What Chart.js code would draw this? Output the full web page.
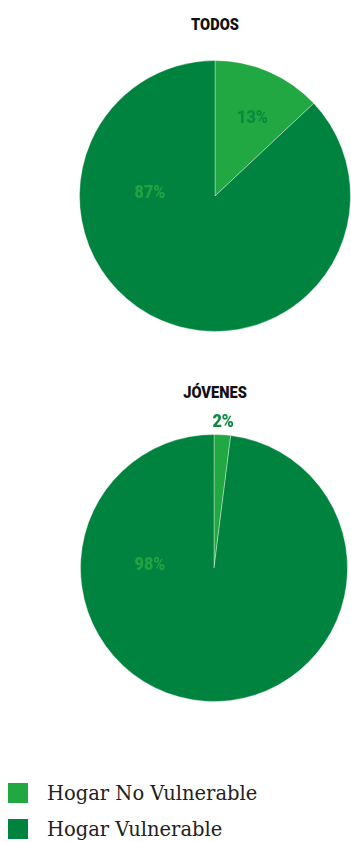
<!DOCTYPE html>
<html>
<head>
<meta charset="utf-8">
<script src="https://cdn.jsdelivr.net/npm/chart.js@4"></script>
<style>
  body { margin: 0; width: 351px; height: 842px; background: #fff; position: relative; overflow: hidden; }
  .titulo { position: absolute; left: 80px; width: 270px; text-align: center; font-family: "Roboto", sans-serif; font-weight: 900; font-size: 17px; color: #111; transform: scaleX(0.86); }
  .caja { position: absolute; }
  #leyenda { position: absolute; left: 8px; top: 775px; font-family: "DejaVu Serif", serif; font-size: 19.5px; color: #222; }
  #leyenda div { display: flex; align-items: center; height: 36px; }
  #leyenda span.m { width: 20px; height: 20px; margin-right: 19px; }
</style>
</head>
<body>
<div class="titulo" style="top:14px">TODOS</div>
<div class="caja" style="left:79px; top:60px; width:272px; height:272px"><canvas id="graficaTodos"></canvas></div>
<div class="titulo" style="top:382px">JÓVENES</div>
<div class="caja" style="left:80px; top:400px; width:268px; height:302px"><canvas id="graficaJovenes"></canvas></div>
<div id="leyenda"></div>
<script>
const categorias = ['Hogar No Vulnerable', 'Hogar Vulnerable'];
const valoresTodos = [13, 87];
const valoresJovenes = [2, 98];
const colores = ['#22a843', '#00833f'];
const coloresTexto = ['#0a8a3c', '#22a243'];

// etiquetas de porcentaje: pequeñas fuera, grandes a la izquierda
const etiquetas = {
    id: 'etiquetas',
    afterDatasetsDraw(chart) {
        const ctx = chart.ctx;
        const arcos = chart.getDatasetMeta(0).data;
        const datos = chart.data.datasets[0].data;
        const total = datos.reduce((a, b) => a + b, 0);
        ctx.save();
        ctx.font = '900 18px "Roboto", sans-serif';
        ctx.textAlign = 'center';
        ctx.textBaseline = 'middle';
        arcos.forEach((arco, i) => {
            const { x, y, startAngle, endAngle, outerRadius } = arco.getProps(['x', 'y', 'startAngle', 'endAngle', 'outerRadius'], true);
            const frac = datos[i] / total;
            const medio = (startAngle + endAngle) / 2;
            let px, py, color = coloresTexto[i];
            if (frac < 0.05) {
                px = x + Math.cos(medio) * (outerRadius + 12);
                py = y + Math.sin(medio) * (outerRadius + 12);
                color = '#0d8a40';
            } else if (frac > 0.5) {
                px = x - outerRadius * 0.48;
                py = y - 3;
            } else {
                px = x + Math.cos(medio) * outerRadius * 0.64 + 3;
                py = y + Math.sin(medio) * outerRadius * 0.64 + 2;
            }
            ctx.fillStyle = color;
            ctx.save();
            ctx.translate(px, py);
            ctx.scale(0.9, 1);
            ctx.fillText(datos[i] + '%', 0, 0);
            ctx.restore();
        });
        ctx.restore();
    }
};

function crearTorta(id, valores, padding) {
    return new Chart(document.getElementById(id), {
        type: 'pie',
        data: {
            labels: categorias,
            datasets: [{
                data: valores,
                backgroundColor: colores,
                borderColor: 'rgba(255,255,255,0.35)',
                borderWidth: 1
            }]
        },
        options: {
            responsive: true,
            maintainAspectRatio: false,
            animation: false,
            layout: { padding: padding },
            plugins: { legend: { display: false }, tooltip: { enabled: false } }
        },
        plugins: [etiquetas]
    });
}

const graficaTodos = crearTorta('graficaTodos', valoresTodos, 0);
const graficaJovenes = crearTorta('graficaJovenes', valoresJovenes, { top: 34 });

const leyenda = document.getElementById('leyenda');
categorias.forEach((c, i) => {
    const fila = document.createElement('div');
    fila.innerHTML = '<span class="m" style="background:' + colores[i] + '"></span>' + c;
    leyenda.appendChild(fila);
});
</script>
</body>
</html>
